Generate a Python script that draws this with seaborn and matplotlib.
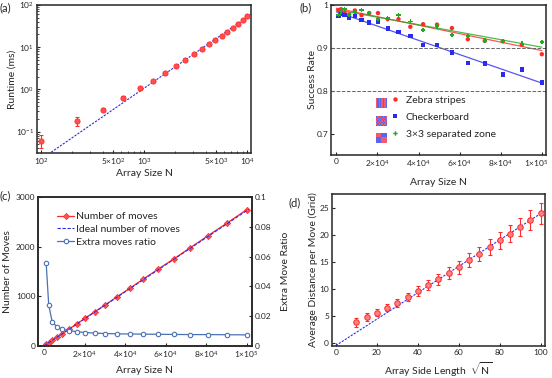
import numpy as np
import pandas as pd
import matplotlib
matplotlib.use("Agg")
import matplotlib.pyplot as plt
import matplotlib.transforms as mtransforms
import seaborn as sns

sns.set_style("ticks")
plt.rcParams['font.family'] = ['Lato', 'DejaVu Sans']
plt.rcParams['mathtext.fontset'] = 'custom'
plt.rcParams['mathtext.rm'] = 'Lato'
plt.rcParams['mathtext.it'] = 'Lato:italic'
plt.rcParams['mathtext.default'] = 'regular'
plt.rcParams['xtick.direction'] = 'in'
plt.rcParams['ytick.direction'] = 'in'

# ---- data ----
# (a) runtime vs N  (N = L^2, L = 10..100)
side_len = [10, 15, 20, 25, 30, 35, 40, 45, 50, 55, 60, 65, 70, 75, 80, 85, 90, 95, 100]
runtime_ms = [0.061, 0.18, 0.33, 0.63, 1.05, 1.62, 2.45, 3.5, 4.9, 6.8, 8.9, 11.7,
              15.0, 18.7, 23.3, 28.9, 35.6, 44.0, 53.8]
runtime_err = [0.021, 0.045, 0.03, 0.05, 0.08, 0.08, 0.1, 0.12, 0.15, 0.2, 0.25, 0.3,
               0.35, 0.4, 0.5, 0.6, 0.7, 0.8, 1.0]
runtime_fit = (10 ** -5.01, 1.68)   # a * N^b

# (b) success rate vs N  (N = 250 k^2, k = 2..20)
big_n = [1000, 2250, 4000, 6250, 9000, 12250, 16000, 20250, 25000, 30250, 36000,
         42250, 49000, 56250, 64000, 72250, 81000, 90250, 100000]
zebra = [0.988, 0.990, 0.982, 0.978, 0.987, 0.976, 0.981, 0.981, 0.967, 0.967, 0.949,
         0.955, 0.954, 0.946, 0.920, 0.916, 0.915, 0.907, 0.885]
checker = [0.974, 0.979, 0.977, 0.970, 0.974, 0.965, 0.959, 0.960, 0.945, 0.937, 0.927,
           0.906, 0.906, 0.889, 0.865, 0.863, 0.838, 0.849, 0.819]
zone3 = [0.976, 0.985, 0.991, 0.977, 0.983, 0.988, 0.981, 0.967, 0.970, 0.977, 0.961,
         0.942, 0.950, 0.930, 0.927, 0.917, 0.916, 0.910, 0.913]

# (c) number of moves / extra ratio
moves = [29, 62, 110, 172, 248, 338, 440, 560, 690, 830, 992, 1162, 1350, 1548, 1755,
         1985, 2228, 2478, 2750]
extra_ratio = [0.0555, 0.0275, 0.0160, 0.0130, 0.0112, 0.0103, 0.0095, 0.0090, 0.0086,
               0.0083, 0.0081, 0.0080, 0.0079, 0.0078, 0.0077, 0.0076, 0.0076, 0.0075, 0.0074]
ideal_slope = 0.0273

# (d) average distance per move
avg_dist = [3.9, 4.85, 5.65, 6.55, 7.45, 8.55, 9.65, 10.75, 11.85, 13.0, 14.1, 15.4,
            16.6, 17.85, 19.1, 20.35, 21.6, 22.9, 24.1]
avg_dist_err = [0.85, 0.8, 0.65, 0.65, 0.7, 0.8, 0.9, 0.95, 1.0, 1.1, 1.2, 1.25, 1.3,
                1.5, 1.6, 1.6, 1.7, 1.85, 1.95]
dist_fit = (0.245, -0.44)

RED = '#ff2a2a'
BLUE = '#2b2bf0'
GREEN = '#22aa22'
STEEL = '#4a72b4'
LAB = 7.5
TICK = 6

fig = plt.figure(figsize=(5.52, 3.78), dpi=100)
ax_a = fig.add_axes([0.067, 0.595, 0.388, 0.392])
ax_b = fig.add_axes([0.600, 0.590, 0.389, 0.397])
ax_c = fig.add_axes([0.069, 0.085, 0.387, 0.393])
ax_d = fig.add_axes([0.601, 0.085, 0.386, 0.402])

for ax in (ax_a, ax_b, ax_c, ax_d):
    for s in ax.spines.values():
        s.set_linewidth(1.1)
    ax.tick_params(labelsize=TICK, length=2.5, width=0.8, pad=2)

# ---- (a) ----
n_a = np.array(side_len) ** 2
df_a = pd.DataFrame({'N': n_a, 'runtime': runtime_ms})
nn = np.logspace(np.log10(90), np.log10(11000), 100)
ax_a.plot(nn, runtime_fit[0] * nn ** runtime_fit[1], ls=(0, (2, 1.2)), color=BLUE, lw=0.8)
ax_a.errorbar(df_a['N'], df_a['runtime'], yerr=runtime_err, fmt='none', ecolor=RED,
              elinewidth=0.8, capsize=1.5, capthick=0.8)
sns.scatterplot(data=df_a, x='N', y='runtime', ax=ax_a, marker='o', s=14, color='#ff5050',
                edgecolor=RED, linewidth=0.6, zorder=3)
ax_a.set_xscale('log')
ax_a.set_yscale('log')
ax_a.set_xlim(91, 10900)
ax_a.set_ylim(0.031, 100)
ax_a.set_xticks([100, 500, 1000, 5000, 10000])
ax_a.set_xticklabels([r'$10^2$', r'$5{\times}10^2$', r'$10^3$', r'$5{\times}10^3$', r'$10^4$'])
ax_a.tick_params(which='minor', length=1.5, width=0.6)
ax_a.set_xlabel('Array Size N', fontsize=LAB)
ax_a.set_ylabel('Runtime (ms)', fontsize=LAB)
ax_a.xaxis.set_label_coords(0.5, -0.11)
ax_a.yaxis.set_label_coords(-0.095, 0.5)

# ---- (b) ----
df_b = pd.DataFrame({'N': big_n * 3,
                     'rate': zebra + checker + zone3,
                     'pattern': ['Zebra stripes'] * len(big_n) + ['Checkerboard'] * len(big_n)
                                + ['3×3 separated zone'] * len(big_n)})
xs = np.linspace(0, 100000, 50)
for vals, col in ((checker, BLUE), (zebra, RED), (zone3, GREEN)):
    p = np.polyfit(big_n, vals, 1)
    ax_b.plot(xs, np.polyval(p, xs), color=col, lw=0.9, alpha=0.8)
ax_b.axhline(0.9, color='#666666', ls='--', lw=0.7)
ax_b.axhline(0.8, color='#666666', ls='--', lw=0.7)
sns.scatterplot(data=df_b, x='N', y='rate', hue='pattern', style='pattern', ax=ax_b,
                palette={'Zebra stripes': RED, 'Checkerboard': BLUE, '3×3 separated zone': GREEN},
                markers={'Zebra stripes': 'o', 'Checkerboard': 's', '3×3 separated zone': 'P'},
                s=10, linewidth=0, zorder=3)
ax_b.set_xlim(-2500, 102000)
ax_b.set_ylim(0.65, 1.0)
ax_b.set_yticks([0.7, 0.8, 0.9, 1.0])
ax_b.set_yticklabels(['0.7', '0.8', '0.9', '1'])
ax_b.set_xticks([0, 20000, 40000, 60000, 80000, 100000])
ax_b.set_xticklabels(['0', r'$2{\times}10^4$', r'$4{\times}10^4$', r'$6{\times}10^4$',
                      r'$8{\times}10^4$', r'$1{\times}10^5$'])
# keep the last tick label inside the figure
last = ax_b.get_xticklabels()[-1]
last.set_transform(last.get_transform()
                   + mtransforms.ScaledTranslation(-4 / 72, 0, fig.dpi_scale_trans))
ax_b.set_xlabel('Array Size N', fontsize=LAB)
ax_b.set_ylabel('Success Rate', fontsize=LAB)
ax_b.xaxis.set_label_coords(0.5, -0.155)
ax_b.yaxis.set_label_coords(-0.068, 0.5)
h, l = ax_b.get_legend_handles_labels()
ax_b.legend(h, l, loc='upper left', bbox_to_anchor=(0.26, 0.425), frameon=False,
            fontsize=LAB, handlelength=0.8, handletextpad=0.6, labelspacing=0.75,
            borderaxespad=0, markerscale=1.0)
# pattern icons next to the legend
k = np.arange(8)
icon_zebra = np.tile(k % 2, (8, 1))
icon_check = (k[:, None] + k[None, :]) % 2
icon_zone = ((k[:, None] >= 4) ^ (k[None, :] >= 4)).astype(int)
icon_cmap = matplotlib.colors.ListedColormap(['#f05a6e', '#5a64f0'])
for i, icon in enumerate((icon_zebra, icon_check, icon_zone)):
    iax = ax_b.inset_axes([0.209, 0.313 - i * 0.117, 0.047, 0.067])
    iax.imshow(icon, cmap=icon_cmap, interpolation='nearest', aspect='auto')
    iax.set_axis_off()

# ---- (c) ----
df_c = pd.DataFrame({'N': big_n, 'moves': moves, 'ratio': extra_ratio})
xi = np.linspace(0, 101000, 20)
ax_c.plot(df_c['N'], df_c['moves'], color=RED, lw=0.9, marker='D', ms=3.2,
          mfc='#ff5050', mec=RED, mew=0.5, label='Number of moves', zorder=3)
ax_c.plot(xi, ideal_slope * xi, color=BLUE, ls=(0, (3, 1.5)), lw=0.8,
          label='Ideal number of moves', zorder=4)
ax_c2 = ax_c.twinx()
sns.lineplot(data=df_c, x='N', y='ratio', ax=ax_c2, color=STEEL, lw=0.9, marker='o',
             markersize=3.2, markerfacecolor='white', markeredgecolor=STEEL,
             markeredgewidth=0.8, label='Extra moves ratio', legend=False)
for s in ax_c2.spines.values():
    s.set_linewidth(1.1)
ax_c2.tick_params(labelsize=TICK, length=2.5, width=0.8, pad=2, direction='in')
ax_c.set_xlim(-3000, 102500)
ax_c.set_ylim(0, 3000)
ax_c2.set_ylim(0, 0.1)
ax_c.set_yticks([0, 1000, 2000, 3000])
ax_c2.set_yticks([0, 0.02, 0.04, 0.06, 0.08, 0.1])
ax_c2.set_yticklabels(['0', '0.02', '0.04', '0.06', '0.08', '0.1'])
ax_c.set_xticks([0, 20000, 40000, 60000, 80000, 100000])
ax_c.set_xticklabels(['0', r'$2{\times}10^4$', r'$4{\times}10^4$', r'$6{\times}10^4$',
                      r'$8{\times}10^4$', r'$1{\times}10^5$'])
ax_c.set_xlabel('Array Size N', fontsize=LAB)
ax_c.set_ylabel('Number of Moves', fontsize=LAB)
ax_c2.set_ylabel('Extra Move Ratio', fontsize=LAB)
ax_c.xaxis.set_label_coords(0.5, -0.135)
ax_c.yaxis.set_label_coords(-0.12, 0.5)
ax_c2.yaxis.set_label_coords(1.137, 0.5)
h1, l1 = ax_c.get_legend_handles_labels()
h2, l2 = ax_c2.get_legend_handles_labels()
ax_c.legend(h1 + h2, l1 + l2, loc='upper left', bbox_to_anchor=(0.07, 0.93), frameon=False,
            fontsize=LAB, handlelength=1.6, handletextpad=0.2, labelspacing=0.35,
            borderaxespad=0)

# ---- (d) ----
df_d = pd.DataFrame({'L': side_len, 'dist': avg_dist})
ll = np.linspace(0, 100.5, 20)
ax_d.plot(ll, dist_fit[0] * ll + dist_fit[1], color=BLUE, ls=(0, (2, 1.2)), lw=0.8)
ax_d.errorbar(df_d['L'], df_d['dist'], yerr=avg_dist_err, fmt='none', ecolor=RED,
              elinewidth=0.8, capsize=1.5, capthick=0.8)
sns.scatterplot(data=df_d, x='L', y='dist', ax=ax_d, marker='o', s=16, color='#ff8080',
                edgecolor=RED, linewidth=0.7, zorder=3)
ax_d.set_xlim(-2, 102)
ax_d.set_ylim(-0.5, 27.7)
ax_d.set_xticks([0, 20, 40, 60, 80, 100])
ax_d.set_yticks([0, 5, 10, 15, 20, 25])
ax_d.set_xlabel(r'Array Side Length  $\sqrt{N}$', fontsize=LAB)
ax_d.set_ylabel('Average Distance per Move (Grid)', fontsize=LAB)
ax_d.xaxis.set_label_coords(0.5, -0.095)
ax_d.yaxis.set_label_coords(-0.065, 0.5)

# panel letters
fig.text(0.0, 0.995, '(a)', fontsize=8, va='top')
fig.text(0.543, 0.995, '(b)', fontsize=8, va='top')
fig.text(0.0, 0.497, '(c)', fontsize=8, va='top')
fig.text(0.522, 0.477, '(d)', fontsize=8, va='top')

fig.savefig('out.png', dpi=100)
